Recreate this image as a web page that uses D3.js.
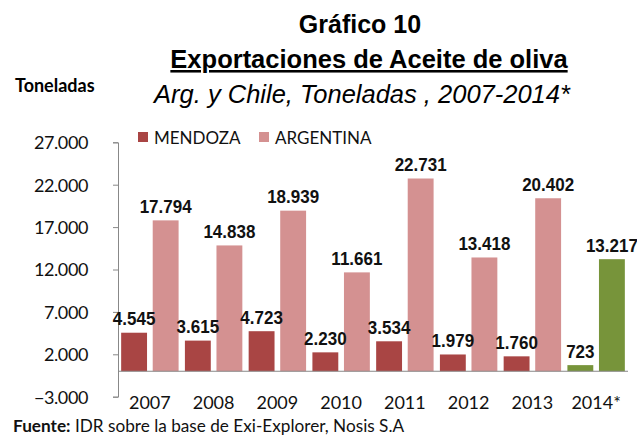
<!DOCTYPE html>
<html>
<head>
<meta charset="utf-8">
<script src="https://cdn.jsdelivr.net/npm/d3@7"></script>
<style>
body{margin:0;background:#fff;}
</style>
</head>
<body>
<script>
// datos del grafico
var years = ["2007","2008","2009","2010","2011","2012","2013","2014*"];
var mendoza = [4545,3615,4723,2230,3534,1979,1760,723];
var argentina = [17794,14838,18939,11661,22731,13418,20402,13217];
var yTicks = [-3000,2000,7000,12000,17000,22000,27000];
var seriesNames = ["MENDOZA","ARGENTINA"];

function drawChart(){
	var colMendoza = "#A94544", colArg = "#D49191", colGreen = "#77943A";

	var fmt = function(v){
		return d3.format(",")(v).replace(/,/g,".");
	};

	var svg = d3.select("body").append("svg")
		.attr("width",637)
		.attr("height",438);

	var pLeft = 118, pRight = 628, pTop = 142.3, pBottom = 396.7;

	var y = d3.scaleLinear().domain([-3000,27000]).range([pBottom,pTop]);
	var x = d3.scaleBand().domain(years).range([pLeft,pRight]);
	var sub = d3.scaleBand().domain([0,1]).range([0,x.bandwidth()]).paddingInner(0.18).paddingOuter(0.1);

	// titulos
	var sans = "'Liberation Sans',Arial,sans-serif";
	var calib = "Lato,'Open Sans',sans-serif";
	svg.append("text").attr("x",360).attr("y",33).attr("text-anchor","middle")
		.style("font-family",sans).style("font-weight","bold").style("font-size","25px")
		.text("Gráfico 10");
	svg.append("text").attr("x",369).attr("y",68).attr("text-anchor","middle")
		.style("font-family",sans).style("font-weight","bold").style("font-size","25.5px")
		.style("text-decoration","underline")
		.text("Exportaciones de Aceite de oliva");
	svg.append("text").attr("x",362).attr("y",103).attr("text-anchor","middle")
		.style("font-family",sans).style("font-style","italic").style("font-size","25.5px")
		.text("Arg. y Chile, Toneladas , 2007-2014*");
	svg.append("text").attr("x",15).attr("y",92)
		.style("font-family",calib).style("font-weight","bold").style("font-size","18px")
		.text("Toneladas");

	// eje y
	var yAxis = d3.axisLeft(y).tickValues(yTicks).tickSize(5).tickFormat(fmt);
	var gy = svg.append("g").attr("transform","translate("+pLeft+",0)").call(yAxis);
	gy.select(".domain").attr("stroke","#888");
	gy.selectAll(".tick line").attr("stroke","#888");
	gy.selectAll(".tick text").attr("x",-30).attr("dy","0.36em")
		.style("font-family",calib).style("font-size","18px").style("letter-spacing","-0.4px")
		.attr("fill","#111");

	// barras
	var groups = svg.selectAll("g.yr").data(years).enter().append("g")
		.attr("class","yr")
		.attr("transform",function(d){return "translate("+x(d)+",0)";});

	var addLabel = function(vals, k){
		groups.append("text")
			.attr("transform",function(d,i){
				return "translate("+(sub(k)+sub.bandwidth()/2)+","+(y(vals[i])-7.5)+") scale(0.92,1)";
			})
			.attr("text-anchor","middle").attr("fill","#111")
			.style("font-family",sans).style("font-weight","bold").style("font-size","18.5px")
			.text(function(d,i){return fmt(vals[i]);});
	};

	groups.append("rect")
		.attr("x",sub(0)).attr("width",sub.bandwidth())
		.attr("y",function(d,i){return y(mendoza[i]);})
		.attr("height",function(d,i){return y(0)-y(mendoza[i]);})
		.attr("fill",function(d,i){return i==7 ? colGreen : colMendoza;});
	groups.append("rect")
		.attr("x",sub(1)).attr("width",sub.bandwidth())
		.attr("y",function(d,i){return y(argentina[i]);})
		.attr("height",function(d,i){return y(0)-y(argentina[i]);})
		.attr("fill",function(d,i){return i==7 ? colGreen : colArg;});

	addLabel(mendoza,0);
	addLabel(argentina,1);

	// eje x en cero
	svg.append("line").attr("x1",pLeft).attr("x2",pRight)
		.attr("y1",y(0)).attr("y2",y(0)).attr("stroke","#888");

	svg.selectAll("text.xl").data(years).enter().append("text")
		.attr("class","xl")
		.attr("x",function(d){return x(d)+x.bandwidth()/2;})
		.attr("y",409)
		.attr("text-anchor","middle")
		.style("font-family",calib).style("font-size","18px").attr("fill","#111")
		.text(function(d){return d;});

	// leyenda
	var legX = [138,259];
	var leg = svg.selectAll("g.leg").data(seriesNames).enter().append("g")
		.attr("class","leg")
		.attr("transform",function(d,i){return "translate("+legX[i]+",132)";});
	leg.append("rect").attr("width",10).attr("height",10)
		.attr("fill",function(d,i){return i==0 ? colMendoza : colArg;});
	leg.append("text").attr("x",16).attr("y",12)
		.style("font-family",calib).style("font-size","17px").attr("fill","#111")
		.text(function(d){return d;});

	// fuente
	var f = svg.append("text").attr("x",13).attr("y",432)
		.style("font-family",calib).style("font-size","17.2px").attr("fill","#111");
	f.append("tspan").style("font-weight","bold").text("Fuente:");
	f.append("tspan").text(" IDR sobre la base de Exi-Explorer, Nosis S.A");
}

drawChart();
</script>
</body>
</html>
